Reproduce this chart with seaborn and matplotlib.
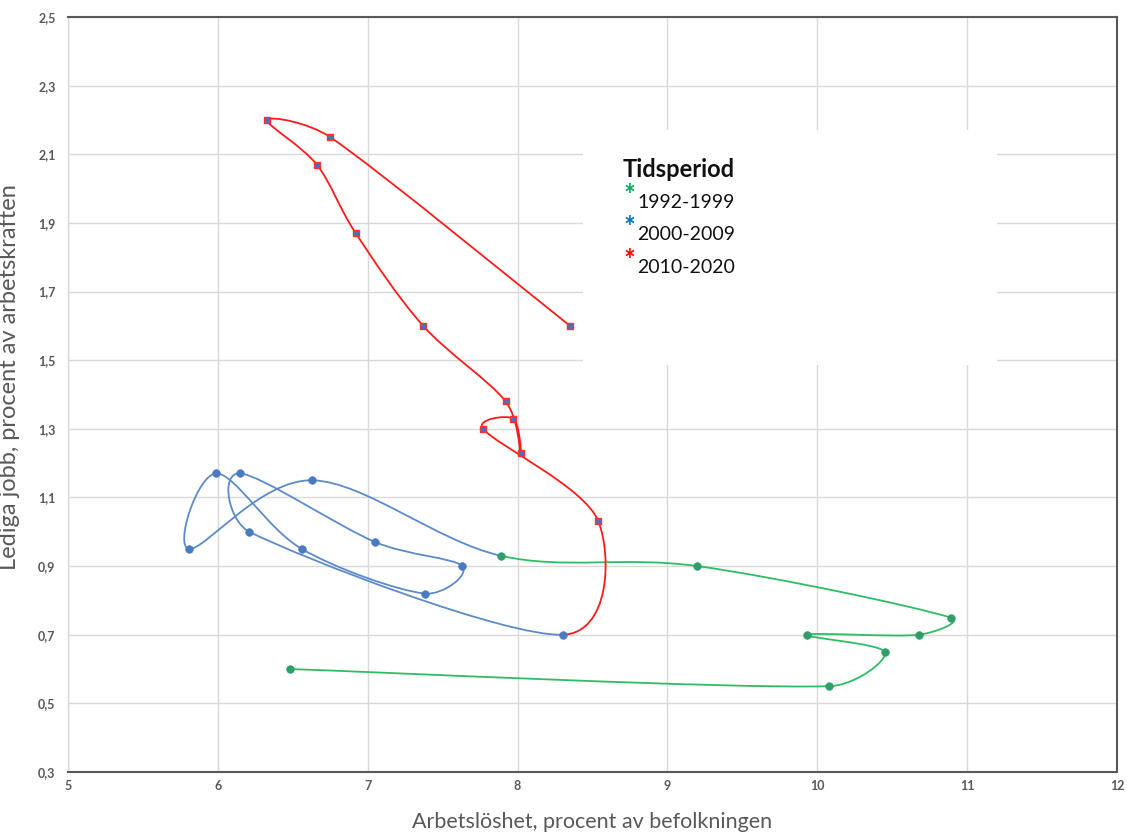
import numpy as np
import pandas as pd
import matplotlib.pyplot as plt
import seaborn as sns
from matplotlib.path import Path
from matplotlib.patches import PathPatch, Rectangle
from matplotlib.ticker import FuncFormatter

# Beveridgekurva, värden
perioder = ["1992-1999", "2000-2009", "2010-2020"]

arbetsloshet_90 = [6.48, 10.08, 10.45, 9.93, 10.68, 10.89, 9.20, 7.89]
lediga_90 = [0.60, 0.55, 0.65, 0.70, 0.70, 0.75, 0.90, 0.93]

arbetsloshet_00 = [6.63, 5.81, 5.99, 6.56, 7.38, 7.63, 7.05, 6.15, 6.21, 8.30]
lediga_00 = [1.15, 0.95, 1.17, 0.95, 0.82, 0.90, 0.97, 1.17, 1.00, 0.70]

arbetsloshet_10 = [8.54, 7.77, 7.97, 8.02, 7.92, 7.37, 6.92, 6.66, 6.33, 6.75, 8.35]
lediga_10 = [1.03, 1.30, 1.33, 1.23, 1.38, 1.60, 1.87, 2.07, 2.20, 2.15, 1.60]

x_ticks = [5, 6, 7, 8, 9, 10, 11, 12]
y_ticks = [0.3, 0.5, 0.7, 0.9, 1.1, 1.3, 1.5, 1.7, 1.9, 2.1, 2.3, 2.5]

farg_linje = {"1992-1999": "#2DBE64", "2000-2009": "#5B8BC9", "2010-2020": "#FF1A1A"}
farg_punkt = {"1992-1999": "#2E9E6A", "2000-2009": "#4A7BC0", "2010-2020": "#4A6FC0"}
farg_stjarna = {"1992-1999": "#00B050", "2000-2009": "#0070C0", "2010-2020": "#FF0000"}

df = pd.DataFrame({
    "Arbetsloshet": arbetsloshet_90 + arbetsloshet_00 + arbetsloshet_10,
    "Lediga": lediga_90 + lediga_00 + lediga_10,
    "Tidsperiod": [perioder[0]] * len(arbetsloshet_90)
                  + [perioder[1]] * len(arbetsloshet_00)
                  + [perioder[2]] * len(arbetsloshet_10),
})

sns.set_theme(style="white")
plt.rcParams["font.family"] = ["Lato", "DejaVu Sans"]

fig = plt.figure(figsize=(11.27, 8.32), dpi=100)
ax = fig.add_axes([68 / 1127, 60 / 832, 1049 / 1127, 755 / 832])
ax.set_xlim(x_ticks[0], x_ticks[-1])
ax.set_ylim(y_ticks[0], y_ticks[-1])

# utjämnad linje (som i Excel): bezier per segment, räknat i skärmkoordinater
pts = ax.transData.transform(df[["Arbetsloshet", "Lediga"]].to_numpy())
n = len(pts)


def styrpunkt(bas, riktning, seglen):
    langd = np.linalg.norm(riktning) / 6
    maxl = seglen * 0.4
    if langd > maxl and langd > 0:
        riktning = riktning * (maxl / langd)
    return bas + riktning / 6


for i in range(n - 1):
    p0 = pts[max(i - 1, 0)]
    p1 = pts[i]
    p2 = pts[i + 1]
    p3 = pts[min(i + 2, n - 1)]
    seg = np.linalg.norm(p2 - p1)
    c1 = styrpunkt(p1, p2 - p0, seg)
    c2 = styrpunkt(p2, -(p3 - p1), seg)
    kontroll = ax.transData.inverted().transform(np.array([p1, c1, c2, p2]))
    bana = Path(kontroll, [Path.MOVETO, Path.CURVE4, Path.CURVE4, Path.CURVE4])
    ax.add_patch(PathPatch(bana, facecolor="none", lw=1.3,
                           edgecolor=farg_linje[df["Tidsperiod"].iloc[i + 1]], zorder=2))

# punkter
for period in perioder:
    sub = df[df["Tidsperiod"] == period]
    if period == "2010-2020":
        sns.scatterplot(data=sub, x="Arbetsloshet", y="Lediga", marker="s", s=22,
                        color=farg_punkt[period], edgecolor="#FF3030", linewidth=1.0,
                        ax=ax, zorder=3, legend=False)
    else:
        sns.scatterplot(data=sub, x="Arbetsloshet", y="Lediga", marker="o", s=30,
                        color=farg_punkt[period], edgecolor=farg_punkt[period], linewidth=0.5,
                        ax=ax, zorder=3, legend=False)

ax.set_xlim(x_ticks[0], x_ticks[-1])
ax.set_ylim(y_ticks[0], y_ticks[-1])
ax.set_xticks(x_ticks)
ax.set_yticks(y_ticks)
ax.yaxis.set_major_formatter(FuncFormatter(lambda v, p: f"{v:.1f}".replace(".", ",")))
ax.xaxis.set_major_formatter(FuncFormatter(lambda v, p: f"{v:.0f}"))
ax.grid(True, color="#D9D9D9", lw=1)
ax.set_axisbelow(True)
ax.tick_params(axis="both", length=0, labelsize=9, labelcolor="#595959")
ax.tick_params(axis="y", pad=9)
ax.tick_params(axis="x", pad=6)
for lab in ax.get_xticklabels() + ax.get_yticklabels():
    lab.set_fontweight("bold")

for side in ["top", "right", "bottom"]:
    ax.spines[side].set_color("#595959")
    ax.spines[side].set_linewidth(1.5)
ax.spines["left"].set_color("#D9D9D9")
ax.spines["left"].set_linewidth(1)

ax.set_xlabel("Arbetslöshet, procent av befolkningen", fontsize=15.5, color="#595959", labelpad=14)
ax.set_ylabel("Lediga jobb, procent av arbetskraften", fontsize=17, color="#595959")
ax.yaxis.set_label_coords(-0.046, 0.523)

# textruta med förklaring
ax.add_patch(Rectangle((0.491, 0.539), 0.395, 0.311, transform=ax.transAxes,
                       facecolor="white", edgecolor="none", zorder=1))
fig.text(623 / 1127, 1 - 177 / 832, "Tidsperiod", fontsize=17, fontweight="bold",
         color="#111111", va="baseline")
rader = [208, 240, 273]
for period, yb in zip(perioder, rader):
    fig.text(629 / 1127, 1 - (yb - 4) / 832, "*", fontsize=20, fontweight="bold",
             color=farg_stjarna[period], ha="center", va="baseline")
    fig.text(637 / 1127, 1 - yb / 832, period, fontsize=14, color="#111111", va="baseline")

plt.savefig("out.png", dpi=100)
